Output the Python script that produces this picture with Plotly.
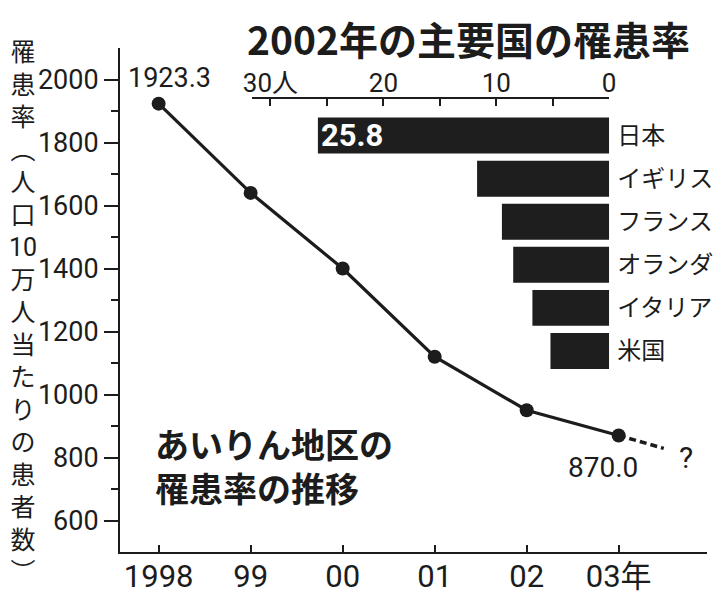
import plotly.graph_objects as go

# ---- data ----
years = [1998, 1999, 2000, 2001, 2002, 2003]
rates = [1923.3, 1640, 1400, 1120, 950, 870.0]
proj_years = [2003, 2003.49]
proj_rates = [870.0, 829]
year_ticktext = ["1998", "99", "00", "01", "02", "03年"]
rate_ticks = [600, 800, 1000, 1200, 1400, 1600, 1800, 2000]
rate_minor = [700, 900, 1100, 1300, 1500, 1700, 1900]

countries = ["日本", "イギリス", "フランス", "オランダ", "イタリア", "米国"]
country_rates = [25.8, 11.7, 9.5, 8.5, 6.8, 5.2]
bar_ticks = [30, 20, 10, 0]
bar_ticktext = ["30人", "20", "10", "0"]
bar_minor = [25, 15, 5]

ytitle_chars = ["罹", "患", "率", "︵", "人", "口", "10", "万", "人", "当", "た", "り", "の", "患", "者", "数", "︶"]

# ---- style ----
W, H = 714, 596
ML, MR, MT, MB = 120, 0, 48, 44
PW, PH = W - ML - MR, H - MT - MB
C = "#1c1c1c"
NUM = "Roboto, Noto Sans CJK JP, sans-serif"
JP = "Noto Sans CJK JP, sans-serif"


def px_x(p):
    return (p - ML) / PW


def px_y(p):
    return (H - MB - p) / PH


fig = go.Figure()

fig.add_trace(go.Bar(
    x=country_rates, y=countries, orientation="h",
    marker=dict(color="#1e1e1e", line=dict(width=0)),
    width=0.835, xaxis="x2", yaxis="y2", showlegend=False, hoverinfo="skip"))

fig.add_trace(go.Scatter(
    x=years, y=rates, mode="lines+markers",
    line=dict(color=C, width=3.2),
    marker=dict(color=C, size=14),
    xaxis="x", yaxis="y", showlegend=False, hoverinfo="skip"))

fig.add_trace(go.Scatter(
    x=proj_years, y=proj_rates, mode="lines",
    line=dict(color=C, width=3.5, dash="7px,4px"),
    xaxis="x", yaxis="y", showlegend=False, hoverinfo="skip"))

ytitle_html = "<br>".join(
    f"<span style='font-family:Roboto'>{ch}</span>" if ch.isdigit() else ch
    for ch in ytitle_chars)

annotations = [
    dict(text="<b>2002年の主要国の罹患率</b>", x=px_x(473), y=px_y(38),
         xref="paper", yref="paper", showarrow=False, xanchor="center", yanchor="middle",
         font=dict(family=JP, size=39, color=C)),
    dict(text="<b>あいりん地区の<br>罹患率の推移</b>", x=px_x(153), y=px_y(466),
         xref="paper", yref="paper", showarrow=False, xanchor="left", yanchor="middle",
         align="left", font=dict(family=JP, size=34, color=C)),
    dict(text=f"{rates[0]:.1f}", x=years[0], y=rates[0], xref="x", yref="y",
         showarrow=False, xanchor="center", yanchor="middle", xshift=11, yshift=26,
         font=dict(family=NUM, size=27, color=C)),
    dict(text=f"{rates[-1]:.1f}", x=years[-1], y=rates[-1], xref="x", yref="y",
         showarrow=False, xanchor="center", yanchor="middle", xshift=-16, yshift=-32,
         font=dict(family=NUM, size=28, color=C)),
    dict(text="?", x=proj_years[-1], y=proj_rates[-1], xref="x", yref="y",
         showarrow=False, xanchor="left", yanchor="middle", xshift=13, yshift=-9,
         font=dict(family=NUM, size=30, color=C)),
    dict(text=f"<b>{country_rates[0]:.1f}</b>", x=country_rates[0], y=countries[0],
         xref="x2", yref="y2", showarrow=False, xanchor="left", yanchor="middle", xshift=1,
         font=dict(family=NUM, size=31, color="white")),
    dict(text=ytitle_html, x=px_x(22), y=px_y(310), xref="paper", yref="paper",
         showarrow=False, xanchor="center", yanchor="middle", align="center",
         font=dict(family=JP, size=25, color=C)),
]

fig.update_layout(
    width=W, height=H,
    margin=dict(l=ML, r=MR, t=MT, b=MB, pad=0),
    paper_bgcolor="white", plot_bgcolor="rgba(0,0,0,0)",
    hovermode=False,
    xaxis=dict(domain=[0, 1], anchor="y", range=[1997.58, 2003.96],
               tickmode="array", tickvals=years, ticktext=year_ticktext,
               ticks="inside", ticklen=7, tickwidth=2, tickcolor=C,
               ticklabelstandoff=-4,
               showline=True, linewidth=2, linecolor=C,
               showgrid=False, zeroline=False,
               tickfont=dict(family=NUM, size=31, color=C)),
    yaxis=dict(domain=[0, 1], anchor="x", range=[500, 2100],
               tickmode="array", tickvals=rate_ticks,
               ticks="outside", ticklen=14, tickwidth=2, tickcolor=C,
               minor=dict(tickvals=rate_minor, ticks="outside", ticklen=7, tickwidth=2, tickcolor=C),
               showline=True, linewidth=2, linecolor=C,
               showgrid=False, zeroline=False,
               tickfont=dict(family=NUM, size=27, color=C)),
    xaxis2=dict(domain=[px_x(254), px_x(615)], anchor="y2", side="top",
                range=[31.6, 0], tickmode="array", tickvals=bar_ticks, ticktext=bar_ticktext,
                ticks="inside", ticklen=7, tickwidth=2, tickcolor=C,
                ticklabelstandoff=-5,
                minor=dict(tickvals=bar_minor, ticks="inside", ticklen=7, tickwidth=2, tickcolor=C),
                showline=True, linewidth=2, linecolor=C,
                showgrid=False, zeroline=False,
                tickfont=dict(family=NUM, size=26, color=C)),
    yaxis2=dict(domain=[px_y(380), px_y(99.3)], anchor="x2", side="right",
                type="category", range=[5.674, -0.842], ticklabelstandoff=7,
                ticks="", showline=False, showgrid=False, zeroline=False,
                tickfont=dict(family=JP, size=24, color=C)),
    annotations=annotations,
)

fig.write_html("out.html")
